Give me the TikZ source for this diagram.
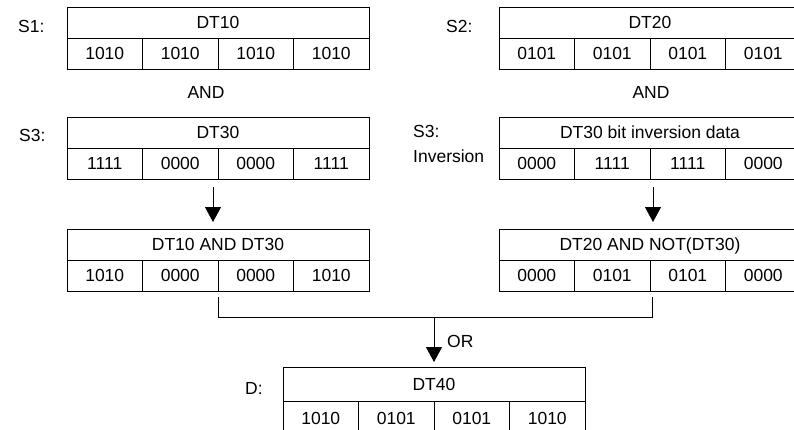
\documentclass[tikz,border=0pt]{standalone}
\usepackage{fontspec}
\setmainfont{Liberation Sans}
\usetikzlibrary{arrows.meta}
\newcommand\fs{\fontsize{17.5}{25}\selectfont}
\tikzset{
  cell/.style={draw, line width=1pt, minimum width=75.5pt, minimum height=31pt,
    inner sep=0pt, outer sep=0pt, anchor=north west, font=\fs,
    text height=12.6pt, text depth=0pt},
  head/.style={cell, minimum width=302pt},
  lbl/.style={anchor=west, inner sep=0pt, font=\fs},
  arr/.style={line width=1pt, -{Triangle[width=16pt,length=15pt]}},
  link/.style={line width=1pt},
}
% name, x, y, header, v1..v4
\newcommand\regtab[8]{%
  \node[head] (#1h) at (#2,#3) {#4};
  \node[cell] (#1a) at (#1h.south west) {#5};
  \node[cell] (#1b) at (#1a.north east) {#6};
  \node[cell] (#1c) at (#1b.north east) {#7};
  \node[cell] (#1d) at (#1c.north east) {#8};
}
\begin{document}
\begin{tikzpicture}[x=1pt,y=-1pt]
\useasboundingbox (0,0) rectangle (794,429);
% tables
\regtab{sa}{67}{7}{DT10}{1010}{1010}{1010}{1010}
\regtab{sb}{499}{7}{DT20}{0101}{0101}{0101}{0101}
\regtab{tL}{67}{117}{DT30}{1111}{0000}{0000}{1111}
\regtab{tR}{499}{117}{DT30 bit inversion data}{0000}{1111}{1111}{0000}
\regtab{rL}{67}{229}{DT10 AND DT30}{1010}{0000}{0000}{1010}
\regtab{rR}{499}{229}{DT20 AND NOT(DT30)}{0000}{0101}{0101}{0000}
\begin{scope}[cell/.append style={minimum height=34pt}]
\regtab{d}{283}{367}{DT40}{1010}{0101}{0101}{1010}
\end{scope}
% labels
\node[lbl] (ls1) at (18,26) {S1:};
\node[lbl] (ls2) at (446,26) {S2:};
\node[lbl] (ls3) at (19,135) {S3:};
\node[lbl, align=left] (ls3i) at (413,144) {S3:\\Inversion};
\node[lbl] (ld) at (245,388) {D:};
\node[font=\fs, inner sep=0pt] (andL) at (206,92) {AND};
\node[font=\fs, inner sep=0pt] (andR) at (651,92) {AND};
% arrows
\draw[arr] ([shift={(-5,8)}]tLb.south east) -- ([shift={(-5,-7)}]rLh.north);
\draw[arr] ([shift={(3,8)}]tRb.south east) -- ([shift={(3,-7)}]rRh.north);
% bracket and OR
\coordinate (bus) at ([shift={(0,26)}]rLb.south east);
\draw[link] ([shift={(0,6)}]rLb.south east) -- (bus) -| ([shift={(2,6)}]rRb.south east);
\draw[arr] (bus -| dh.north) -- ([shift={(0,-5)}]dh.north);
\node[lbl] (or) at (447,341) {OR};
\end{tikzpicture}
\end{document}
